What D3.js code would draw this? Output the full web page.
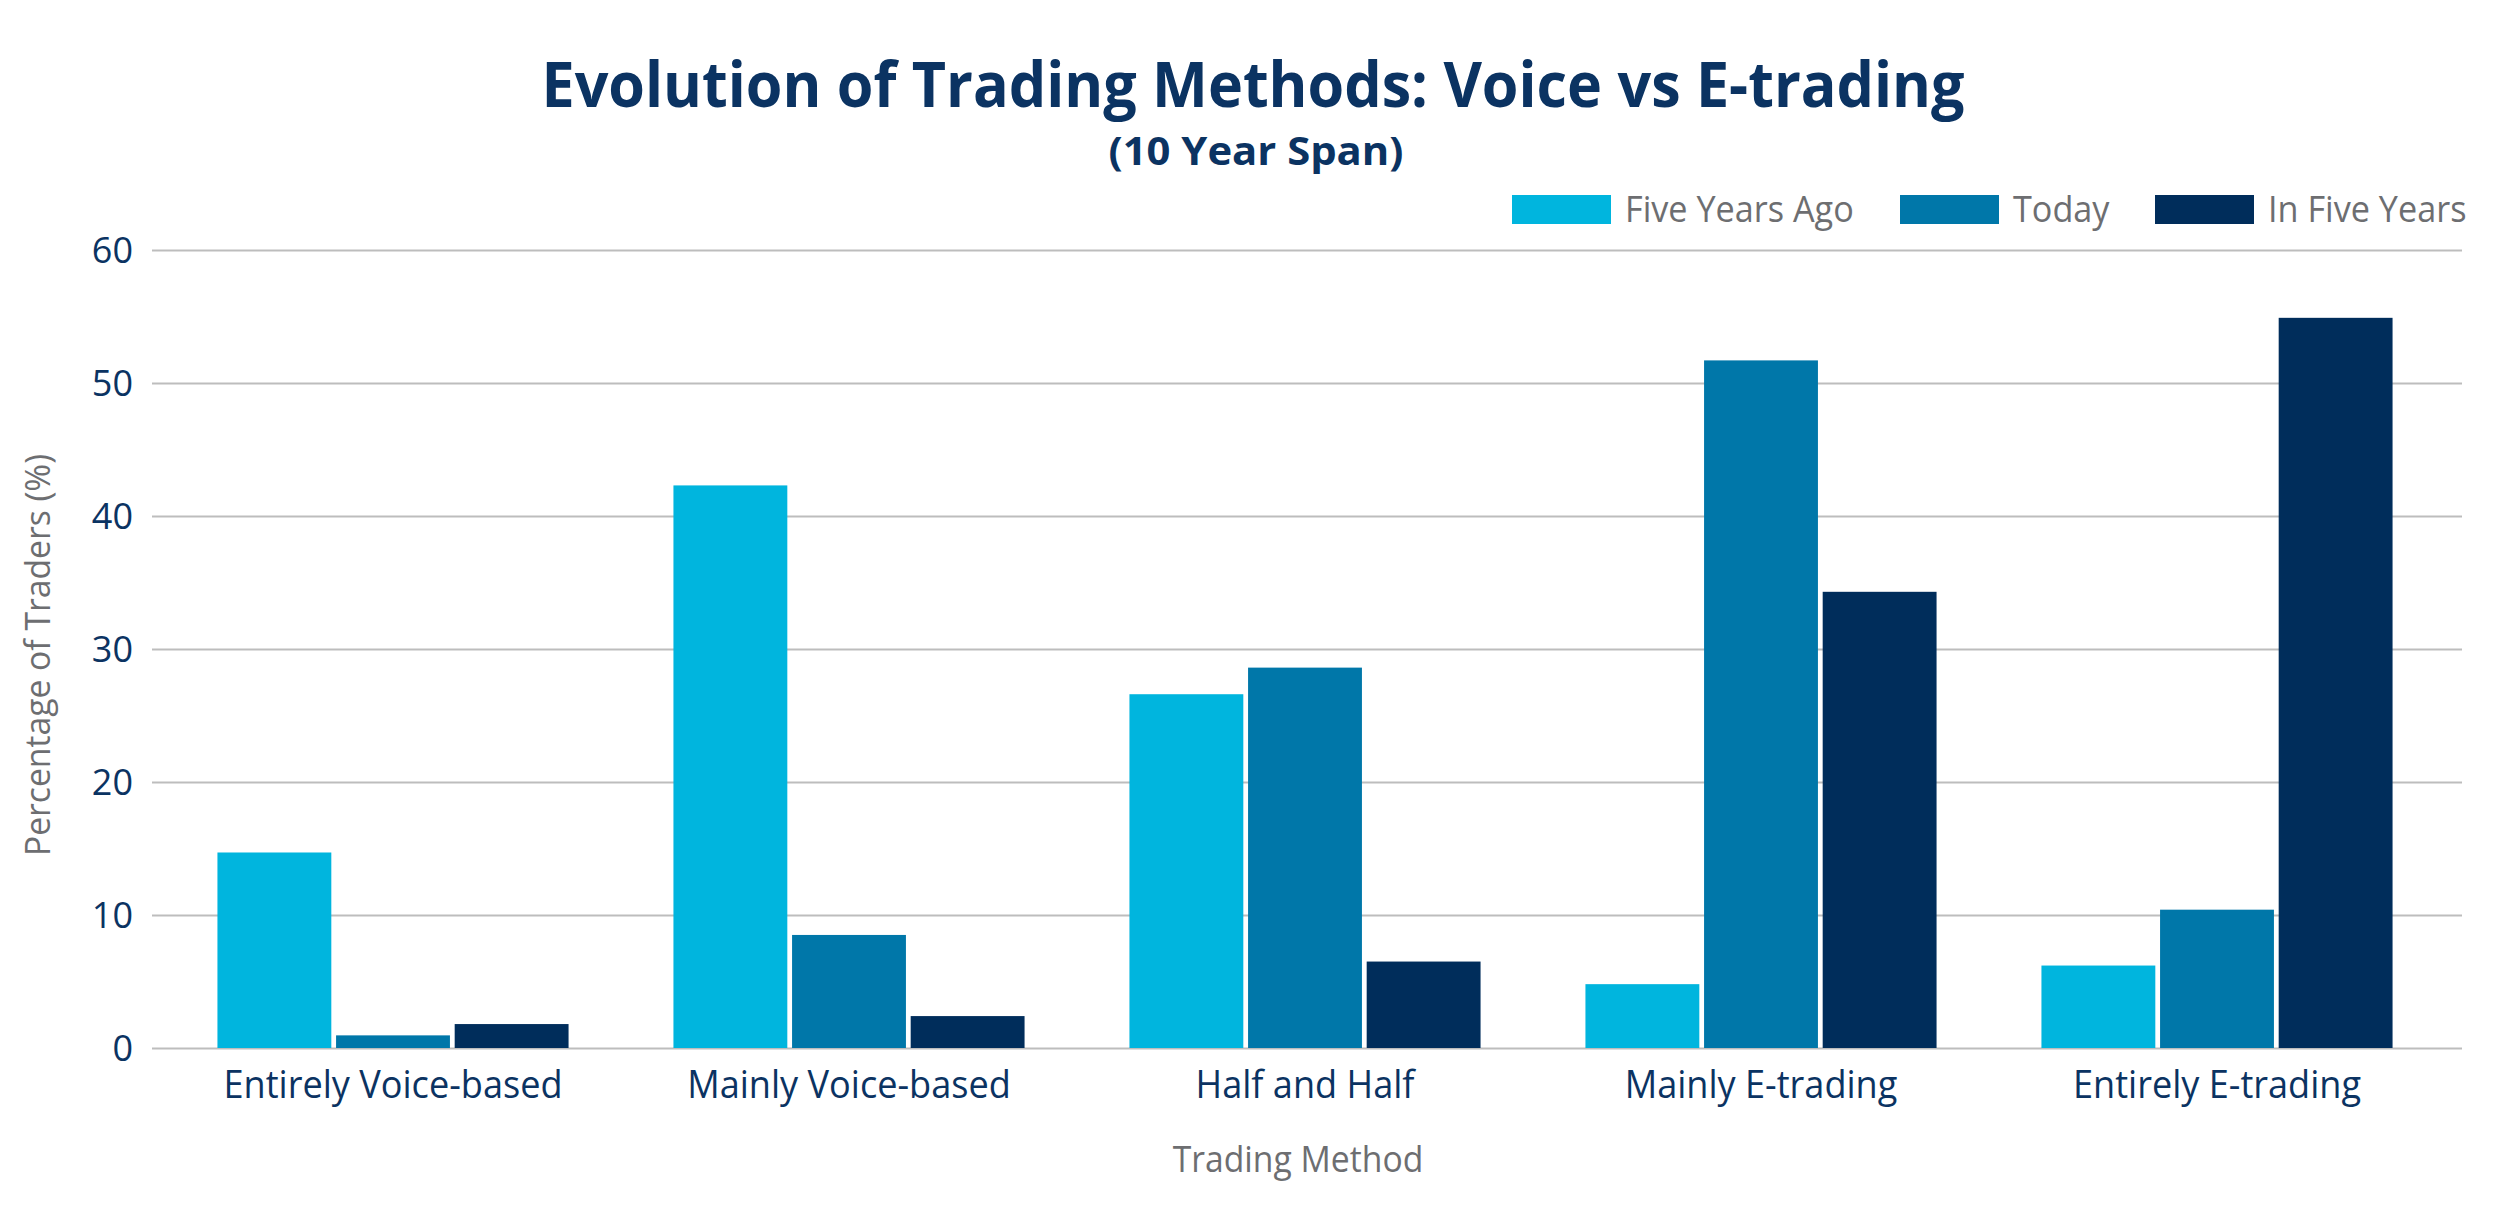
<!DOCTYPE html>
<html lang="en">
  <head>
    <meta charset="utf-8">
    <title>Evolution of Trading Methods</title>
    <style>
      body { margin: 0; background: #fff; }
      svg { display: block; }
      text { font-family: "Open Sans", sans-serif; }
    </style>
    <script src="https://d3js.org/d3.v7.min.js"></script>
  </head>
  <body>
    <script>

    // data
    const categories = ["Entirely Voice-based", "Mainly Voice-based", "Half and Half", "Mainly E-trading", "Entirely E-trading"];
    const seriesNames = ["Five Years Ago", "Today", "In Five Years"];
    const fiveYearsAgo = [14.7, 42.3, 26.6, 4.8, 6.2];
    const today = [0.95, 8.5, 28.6, 51.7, 10.4];
    const inFiveYears = [1.8, 2.4, 6.5, 34.3, 54.9];
    const yTicks = [0, 10, 20, 30, 40, 50, 60];
    const colors = ["#00b5de", "#0077a9", "#002d5b"];

    const series = [fiveYearsAgo, today, inFiveYears];
    const table = categories.map((c, i) => ({
      category: c,
      values: seriesNames.map((s, j) => ({ key: s, value: series[j][i], color: colors[j] }))
    }));

    const W = 2501, H = 1210;
    const gridLeft = 152, gridRight = 2462;
    const bandLeft = 165, bandRight = 2445;
    const plotTop = 250, plotBottom = 1048;

    const navy = "#0b3362";
    const grey = "#6d6e71";

    const svg = d3.select("body")
      .append("svg")
      .attr("width", W)
      .attr("height", H);

    // squeeze text horizontally, the original face is narrower than Open Sans
    function squeeze(sel, k) {
      sel.each(function() {
        const len = this.getComputedTextLength();
        d3.select(this)
          .attr("textLength", len * k)
          .attr("lengthAdjust", "spacingAndGlyphs");
      });
    }

    const x0 = d3.scaleBand()
      .domain(categories)
      .range([bandLeft, bandRight])
      .paddingInner(0.23)
      .paddingOuter(0.115);

    const x1 = d3.scaleBand()
      .domain(seriesNames)
      .range([0, x0.bandwidth()])
      .paddingInner(0.04);

    const y = d3.scaleLinear()
      .domain([0, 60])
      .range([plotBottom, plotTop]);

    // y axis + gridlines
    const yAxis = svg.append("g")
      .attr("transform", `translate(${gridLeft},0)`)
      .call(d3.axisLeft(y)
        .tickValues(yTicks)
        .tickSize(-(gridRight - gridLeft))
        .tickPadding(19));

    yAxis.select(".domain").remove();
    yAxis.selectAll(".tick line")
      .attr("stroke", "#bdbdbd")
      .attr("stroke-width", 2);
    yAxis.selectAll(".tick text")
      .attr("fill", navy)
      .attr("dy", "0.36em")
      .style("font-size", "36px");

    // bars
    svg.append("g")
      .selectAll("g")
      .data(table)
      .join("g")
      .attr("transform", d => `translate(${x0(d.category)},0)`)
      .selectAll("rect")
      .data(d => d.values)
      .join("rect")
      .attr("x", d => x1(d.key))
      .attr("y", d => y(d.value))
      .attr("width", x1.bandwidth())
      .attr("height", d => y(0) - y(d.value))
      .attr("fill", d => d.color);

    // x axis labels
    const xAxis = svg.append("g")
      .attr("transform", `translate(0,${plotBottom})`)
      .call(d3.axisBottom(x0).tickSize(0));
    xAxis.select(".domain").remove();
    xAxis.selectAll(".tick text")
      .attr("y", 50)
      .attr("dy", null)
      .attr("fill", navy)
      .style("font-size", "38px")
      .call(squeeze, 0.95);

    // titles
    svg.append("text")
      .attr("x", 1253)
      .attr("y", 107)
      .attr("text-anchor", "middle")
      .attr("fill", navy)
      .style("font-size", "63px")
      .style("font-weight", "bold")
      .text("Evolution of Trading Methods: Voice vs E-trading")
      .call(sel => sel.attr("textLength", 1423).attr("lengthAdjust", "spacingAndGlyphs"));

    svg.append("text")
      .attr("x", 1256)
      .attr("y", 165)
      .attr("text-anchor", "middle")
      .attr("fill", navy)
      .style("font-size", "39px")
      .style("font-weight", "bold")
      .text("(10 Year Span)")
      .call(sel => sel.attr("textLength", 295).attr("lengthAdjust", "spacingAndGlyphs"));

    svg.append("text")
      .attr("x", 1298)
      .attr("y", 1172)
      .attr("text-anchor", "middle")
      .attr("fill", grey)
      .style("font-size", "37px")
      .text("Trading Method")
      .call(squeeze, 0.91);

    svg.append("text")
      .attr("transform", `translate(50,655) rotate(-90)`)
      .attr("text-anchor", "middle")
      .attr("fill", grey)
      .style("font-size", "34px")
      .text("Percentage of Traders (%)")
      .call(squeeze, 0.99);

    // legend
    const legendX = [1512, 1900, 2155];
    const legend = svg.append("g")
      .selectAll("g")
      .data(seriesNames)
      .join("g")
      .attr("transform", (d, i) => `translate(${legendX[i]},195)`);

    legend.append("rect")
      .attr("width", 99)
      .attr("height", 29)
      .attr("fill", (d, i) => colors[i]);

    legend.append("text")
      .attr("x", 113)
      .attr("y", 27)
      .attr("fill", grey)
      .style("font-size", "36px")
      .text(d => d)
      .call(squeeze, 0.95);

    </script>
  </body>
</html>
